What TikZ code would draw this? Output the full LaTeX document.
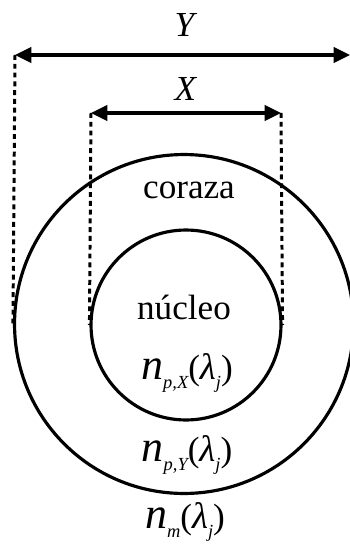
\documentclass[tikz,border=0pt]{standalone}
\usepackage{fontspec}
\setmainfont{Liberation Serif}
\usetikzlibrary{arrows.meta,positioning}
\newcommand{\lowidx}[1]{\raisebox{-0.6ex}{\fontsize{10.5}{12}\selectfont\itshape #1}}
\newcommand{\bign}{{\fontsize{25}{26}\selectfont\itshape n}}
\newcommand{\lam}{{\fontsize{21}{24}\selectfont\itshape λ}}
\tikzset{
  ring/.style={draw, circle, line width=1.8pt, inner sep=0pt},
  dimarr/.style={{Triangle[length=3.3mm,width=3.1mm]}-{Triangle[length=3.3mm,width=3.1mm]}, line width=1.8pt},
  guide/.style={line width=1.7pt, dash pattern=on 2.8pt off 2.2pt},
  lbl/.style={font=\fontsize{20}{24}\selectfont, inner sep=0pt}
}
\begin{document}
\begin{tikzpicture}[x=0.02cm,y=-0.02cm]
  \useasboundingbox (0,0) rectangle (350,544);
  \clip (0,0) rectangle (350,544);
  \node[ring, minimum size=6.78cm] (outer) at (184,324) {};
  \node[ring, minimum size=3.8cm] (inner) at (186,325) {};
  \coordinate (yl) at (15,55);
  \coordinate (yr) at (350,55);
  \coordinate (xl) at (91,113);
  \coordinate (xr) at (281,113);
  \draw[dimarr] (yl) -- (yr);
  \draw[dimarr] (xl) -- (xr);
  \draw[guide] (yl) -- (outer.west);
  \draw[guide] (xl) -- (inner.west);
  \draw[guide] (xr) -- (inner.east);
  \node[lbl] (ylab) at (186,25) {\textit{Y}};
  \node[lbl] (xlab) at (186,89) {\textit{X}};
  \node[lbl] (shell) at (189,190) {coraza};
  \node[lbl] (core) at (184,307) {núcleo};
  \node[lbl] (nx) at (187,373) {\bign\lowidx{p,X}(\lam\lowidx{j})};
  \node[lbl] (ny) at (187,455) {\bign\lowidx{p,Y}(\lam\lowidx{j})};
  \node[lbl] (nm) at (185,522) {\bign\lowidx{m}(\lam\lowidx{j})};
\end{tikzpicture}
\end{document}
